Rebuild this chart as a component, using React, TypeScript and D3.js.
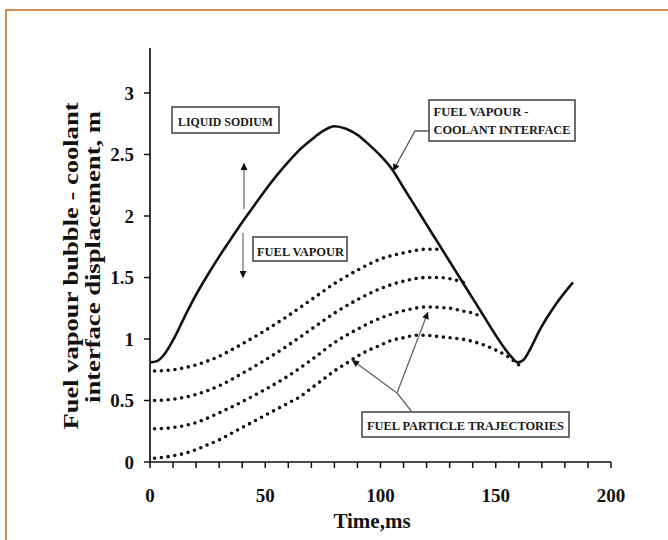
import React from 'react';
import * as d3 from 'd3';

// Solid line: fuel vapour - coolant interface
const interfaceT = [0, 3, 6, 10, 15, 20, 25, 30, 35, 40, 45, 50, 55, 60, 65, 70, 75, 80, 85, 90, 95, 100, 105, 110, 115, 120, 125, 130, 135, 140, 145, 150, 154, 157, 159.5, 162, 165, 169, 176, 183.5];
const interfaceY = [0.81, 0.82, 0.87, 0.99, 1.18, 1.36, 1.52, 1.67, 1.81, 1.95, 2.08, 2.21, 2.33, 2.44, 2.54, 2.62, 2.69, 2.73, 2.71, 2.66, 2.58, 2.49, 2.38, 2.23, 2.08, 1.93, 1.78, 1.63, 1.48, 1.33, 1.18, 1.03, 0.92, 0.85, 0.81, 0.83, 0.92, 1.07, 1.28, 1.46];

// Fuel particle trajectories (dotted)
const traj1T = [2, 10, 20, 30, 40, 50, 60, 70, 80, 90, 100, 110, 115, 120, 127];
const traj1Y = [0.74, 0.75, 0.79, 0.86, 0.96, 1.07, 1.19, 1.32, 1.45, 1.56, 1.65, 1.70, 1.72, 1.73, 1.73];
const traj2T = [2, 10, 20, 30, 40, 50, 60, 70, 80, 90, 100, 110, 120, 125, 130, 136];
const traj2Y = [0.50, 0.51, 0.55, 0.62, 0.72, 0.83, 0.95, 1.08, 1.21, 1.32, 1.41, 1.47, 1.50, 1.50, 1.49, 1.46];
const traj3T = [2, 10, 20, 30, 40, 50, 60, 70, 80, 90, 100, 110, 120, 130, 135, 140, 144];
const traj3Y = [0.27, 0.28, 0.32, 0.40, 0.49, 0.59, 0.70, 0.83, 0.97, 1.08, 1.17, 1.23, 1.26, 1.25, 1.23, 1.21, 1.18];
const traj4T = [2, 10, 15, 20, 25, 30, 35, 40, 45, 50, 55, 60, 65, 70, 75, 80, 85, 90, 95, 100, 105, 110, 115, 120, 125, 130, 135, 140, 145, 150, 155, 160, 161.5];
const traj4Y = [0.03, 0.05, 0.07, 0.10, 0.14, 0.18, 0.23, 0.28, 0.33, 0.38, 0.43, 0.48, 0.53, 0.60, 0.67, 0.74, 0.80, 0.86, 0.91, 0.95, 0.99, 1.01, 1.03, 1.03, 1.02, 1.01, 1.00, 0.98, 0.95, 0.91, 0.86, 0.79, 0.77];

const xTickValues = [0, 10, 20, 30, 40, 50, 60, 70, 80, 90, 100, 110, 120, 130, 140, 150, 160, 170, 180, 190, 200];
const xTickLabels = [0, 50, 100, 150, 200];
const yTickLabels = [0, 0.5, 1, 1.5, 2, 2.5, 3];

const xTitle = 'Time,ms';
const yTitle1 = 'Fuel vapour bubble - coolant';
const yTitle2 = 'interface displacement, m';

const FONT = "'Liberation Serif', 'Times New Roman', serif";

export default function App() {
  const x = d3.scaleLinear().domain([0, 200]).range([150, 611]);
  const y = d3.scaleLinear().domain([0, 3]).range([462, 93]);
  const yTop = y(3.366);

  const line = d3
    .line<[number, number]>()
    .x((d) => x(d[0]))
    .y((d) => y(d[1]))
    .curve(d3.curveMonotoneX);

  const zip = (a: number[], b: number[]) => a.map((v, i) => [v, b[i]] as [number, number]);
  const trajs = [zip(traj1T, traj1Y), zip(traj2T, traj2Y), zip(traj3T, traj3Y), zip(traj4T, traj4Y)];

  const boxStyle = { fill: 'white', stroke: '#4a4a4a', strokeWidth: 1.6 };
  const boxText = { fontFamily: FONT, fontWeight: 'bold' as const, fontSize: 13.5, fill: '#1a1a1a' };

  return (
    <svg
      width={668}
      height={540}
      style={{ position: 'absolute', left: 0, top: 0, background: 'white' }}
    >
      <defs>
        <marker id="ah" viewBox="0 0 10 10" refX="10" refY="5" markerWidth="9" markerHeight="7" markerUnits="userSpaceOnUse" orient="auto">
          <path d="M0,0 L10,5 L0,10 z" fill="#111" />
        </marker>
      </defs>
      <rect x={6} y={10} width={700} height={600} fill="white" stroke="#d28b52" strokeWidth={2} />

      {/* axes */}
      <line x1={150} x2={150} y1={yTop} y2={462} stroke="#111" strokeWidth={1.7} />
      <line x1={150} x2={611} y1={462} y2={462} stroke="#111" strokeWidth={1.7} />
      {xTickValues.map((t) => (
        <line key={'xt' + t} x1={x(t)} x2={x(t)} y1={462} y2={468} stroke="#111" strokeWidth={1.5} />
      ))}
      {xTickLabels.map((t) => (
        <text key={'xl' + t} x={x(t)} y={502} textAnchor="middle" fontFamily={FONT} fontWeight="bold" fontSize={19} fill="#111">
          {t}
        </text>
      ))}
      {yTickLabels.map((v) => (
        <g key={'yt' + v}>
          <line x1={144} x2={150} y1={y(v)} y2={y(v)} stroke="#111" strokeWidth={1.5} />
          <text x={134} y={y(v) + 6.5} textAnchor="end" fontFamily={FONT} fontWeight="bold" fontSize={19} fill="#111">
            {v}
          </text>
        </g>
      ))}
      <text x={372} y={528} textAnchor="middle" fontFamily={FONT} fontWeight="bold" fontSize={21} fill="#111">
        {xTitle}
      </text>
      <text
        transform="translate(78,266) rotate(-90)"
        textAnchor="middle"
        fontFamily={FONT}
        fontWeight="bold"
        fontSize={22}
        fill="#111"
        textLength={327}
        lengthAdjust="spacingAndGlyphs"
      >
        {yTitle1}
      </text>
      <text
        transform="translate(100,257) rotate(-90)"
        textAnchor="middle"
        fontFamily={FONT}
        fontWeight="bold"
        fontSize={22}
        fill="#111"
        textLength={292}
        lengthAdjust="spacingAndGlyphs"
      >
        {yTitle2}
      </text>

      {/* data */}
      {trajs.map((d, i) => (
        <path key={'tr' + i} d={line(d) || ''} fill="none" stroke="#111" strokeWidth={3.6} strokeLinecap="round" strokeDasharray="0 6.8" />
      ))}
      <path d={line(zip(interfaceT, interfaceY)) || ''} fill="none" stroke="#111" strokeWidth={2.6} strokeLinejoin="round" />

      {/* annotations */}
      <rect x={172} y={107} width={107} height={26} {...boxStyle} />
      <text x={178} y={125.5} {...boxText} textLength={95} lengthAdjust="spacingAndGlyphs">LIQUID SODIUM</text>
      <line x1={244} y1={209} x2={244} y2={163} stroke="#666" strokeWidth={1.2} markerEnd="url(#ah)" />
      <line x1={243} y1={233} x2={243} y2={278} stroke="#666" strokeWidth={1.2} markerEnd="url(#ah)" />

      <rect x={253} y={237} width={94} height={24} {...boxStyle} />
      <text x={257} y={255.5} {...boxText} textLength={87} lengthAdjust="spacingAndGlyphs">FUEL VAPOUR</text>

      <rect x={429} y={100} width={146} height={41} {...boxStyle} />
      <text x={433.5} y={116} {...boxText} textLength={95} lengthAdjust="spacingAndGlyphs">FUEL VAPOUR -</text>
      <text x={433.5} y={134} {...boxText} textLength={137} lengthAdjust="spacingAndGlyphs">COOLANT INTERFACE</text>
      <polyline points="429,131 415,131 393,171" fill="none" stroke="#555" strokeWidth={1.3} markerEnd="url(#ah)" />

      <rect x={362} y={412} width={207} height={25} {...boxStyle} />
      <text x={367} y={429.5} {...boxText} textLength={197} lengthAdjust="spacingAndGlyphs">FUEL PARTICLE TRAJECTORIES</text>
      <line x1={412} y1={412} x2={397} y2={393} stroke="#666" strokeWidth={1.3} />
      <line x1={397} y1={393} x2={352} y2={360} stroke="#666" strokeWidth={1.3} markerEnd="url(#ah)" />
      <line x1={397} y1={393} x2={428} y2={312} stroke="#666" strokeWidth={1.3} markerEnd="url(#ah)" />
    </svg>
  );
}
